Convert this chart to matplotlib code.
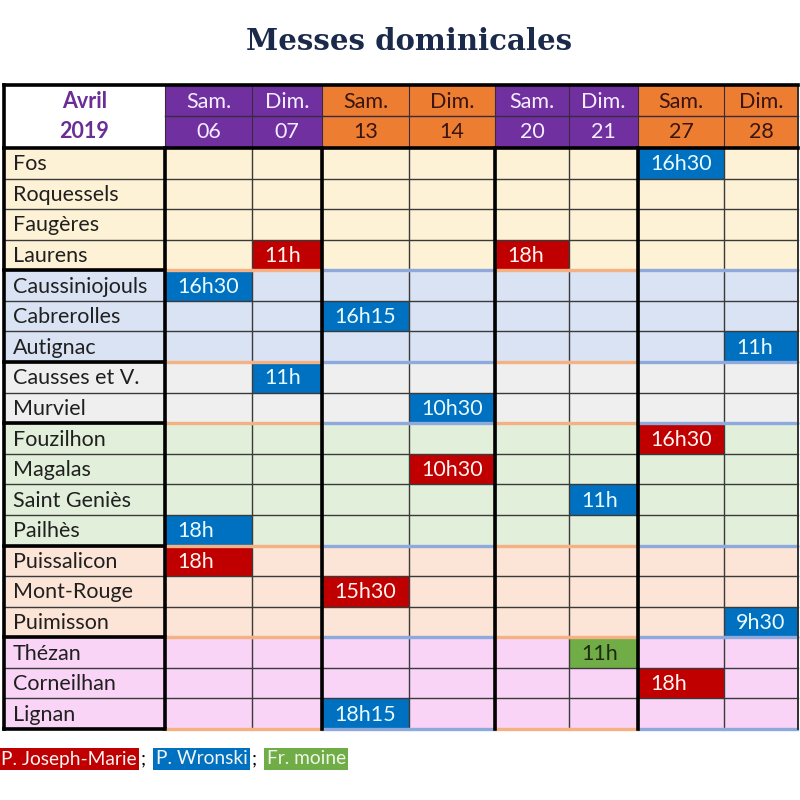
import matplotlib.pyplot as plt
from matplotlib.patches import Rectangle

# data
villages = [
    "Fos", "Roquessels", "Faugères", "Laurens",
    "Caussiniojouls", "Cabrerolles", "Autignac",
    "Causses et V.", "Murviel",
    "Fouzilhon", "Magalas", "Saint Geniès", "Pailhès",
    "Puissalicon", "Mont-Rouge", "Puimisson",
    "Thézan", "Corneilhan", "Lignan",
]
group_sizes = [4, 3, 2, 4, 3, 3]
days = ["Sam.", "Dim.", "Sam.", "Dim.", "Sam.", "Dim.", "Sam.", "Dim."]
dates = ["06", "07", "13", "14", "20", "21", "27", "28"]
priests = ["P. Joseph-Marie", "P. Wronski", "Fr. moine"]

# (village, date, time, priest index)
masses = [
    ("Fos", "27", "16h30", 1),
    ("Laurens", "07", "11h", 0),
    ("Laurens", "20", "18h", 0),
    ("Caussiniojouls", "06", "16h30", 1),
    ("Cabrerolles", "13", "16h15", 1),
    ("Autignac", "28", "11h", 1),
    ("Causses et V.", "07", "11h", 1),
    ("Murviel", "14", "10h30", 1),
    ("Fouzilhon", "27", "16h30", 0),
    ("Magalas", "14", "10h30", 0),
    ("Saint Geniès", "21", "11h", 1),
    ("Pailhès", "06", "18h", 1),
    ("Puissalicon", "06", "18h", 0),
    ("Mont-Rouge", "13", "15h30", 0),
    ("Puimisson", "28", "9h30", 1),
    ("Thézan", "21", "11h", 2),
    ("Corneilhan", "27", "18h", 0),
    ("Lignan", "13", "18h15", 1),
]

# styling
group_colors = ["#FDF1D6", "#DAE3F3", "#EFEFEF", "#E2EFDA", "#FCE4D6", "#F9D4F6"]
priest_colors = ["#C00000", "#0070C0", "#70AD47"]
priest_text = ["#FFF4F0", "#E8FBFF", "#1E2A10"]
purple = "#7030A0"
orange = "#ED7D31"
header_colors = [purple, purple, orange, orange, purple, purple, orange, orange]
sep_colors = ["#F4B183" if c == purple else "#8EA9DB" for c in header_colors]
font = "Lato"
fs = 15.5

col_edges = [4, 165, 252, 322, 409, 495, 569, 638, 724, 798]
head_top, head_mid, head_bot = 85, 116, 148
table_bot = 729
row_h = (table_bot - head_bot) / len(villages)

fig = plt.figure(figsize=(8, 8), dpi=100)
ax = fig.add_axes([0, 0, 1, 1])
ax.set_xlim(0, 800)
ax.set_ylim(800, 0)
ax.axis("off")

ax.text(409, 42, "Messes dominicales", ha="center", va="center",
        fontsize=21, fontweight="bold", family="DejaVu Serif", color="#1B2A4A")

# header
ax.text((col_edges[0] + col_edges[1]) / 2, (head_top + head_mid) / 2 + 1, "Avril",
        ha="center", va="center", fontsize=fs, fontweight="bold", family=font, color="#6A2E96")
ax.text((col_edges[0] + col_edges[1]) / 2, (head_mid + head_bot) / 2, "2019",
        ha="center", va="center", fontsize=fs, fontweight="bold", family=font, color="#6A2E96")
for j in range(len(dates)):
    x0, x1 = col_edges[j + 1], col_edges[j + 2]
    ax.add_patch(Rectangle((x0, head_top), x1 - x0, head_bot - head_top,
                           facecolor=header_colors[j], edgecolor="none"))
    tcol = "#F6EEFF" if header_colors[j] == purple else "#3A1410"
    ax.text((x0 + x1) / 2, (head_top + head_mid) / 2 + 1, days[j], ha="center", va="center",
            fontsize=fs, family=font, color=tcol)
    ax.text((x0 + x1) / 2, (head_mid + head_bot) / 2, dates[j], ha="center", va="center",
            fontsize=fs, family=font, color=tcol)
    ax.plot([x0, x1], [head_mid, head_mid], color="#3A2A40", lw=1.0)
    ax.plot([x0, x0], [head_top, head_bot], color="#3A2A40", lw=0.8)

# body fills
row_group = []
for g, n in enumerate(group_sizes):
    row_group += [g] * n
for i, name in enumerate(villages):
    y0 = head_bot + i * row_h
    ax.add_patch(Rectangle((col_edges[0], y0), col_edges[-1] - col_edges[0], row_h,
                           facecolor=group_colors[row_group[i]], edgecolor="none"))
    ax.text(col_edges[0] + 9, y0 + row_h / 2 + 1, name, ha="left", va="center",
            fontsize=fs, family=font, color="#202020")

# masses
for village, date, time, p in masses:
    i = villages.index(village)
    j = dates.index(date)
    x0, x1 = col_edges[j + 1], col_edges[j + 2]
    y0 = head_bot + i * row_h
    ax.add_patch(Rectangle((x0, y0), x1 - x0, row_h, facecolor=priest_colors[p], edgecolor="none"))
    ax.text(x0 + 12, y0 + row_h / 2 + 1, time, ha="left", va="center",
            fontsize=fs, family=font, color=priest_text[p])

# grid lines
for i in range(1, len(villages)):
    y = head_bot + i * row_h
    ax.plot([col_edges[0], col_edges[-1]], [y, y], color="#3A3A3A", lw=1.0)
for x in col_edges[2:-1]:
    ax.plot([x, x], [head_bot, table_bot], color="#3A3A3A", lw=1.0)

# group separators
bounds = [0]
for n in group_sizes:
    bounds.append(bounds[-1] + n)
for b in bounds[1:]:
    y = head_bot + b * row_h
    ax.plot([col_edges[0], col_edges[1]], [y, y], color="black", lw=2.6)
    for j in range(len(dates)):
        ax.plot([col_edges[j + 1] + 1, col_edges[j + 2] - 1], [y, y], color=sep_colors[j], lw=2.4)

# thick verticals
for x in [col_edges[0], col_edges[1], col_edges[3], col_edges[5], col_edges[7]]:
    ax.plot([x, x], [head_bot, table_bot], color="black", lw=2.6)
ax.plot([col_edges[0], col_edges[0]], [head_top, head_bot], color="black", lw=2.6)
ax.plot([col_edges[-1], col_edges[-1]], [head_top, table_bot], color="#303030", lw=1.4)
ax.plot([col_edges[0], col_edges[-1]], [head_top, head_top], color="black", lw=2.6)
ax.plot([col_edges[0], col_edges[-1]], [head_bot, head_bot], color="black", lw=2.6)

# legend: labels laid out one after another
renderer = fig.canvas.get_renderer()
x = 1
for k, name in enumerate(priests):
    t = ax.text(x, 759, name, ha="left", va="center", fontsize=13.8, family=font,
                color="#F4F4F4" if k < 2 else "#EEF5E8",
                bbox=dict(boxstyle="square,pad=0.12", facecolor=priest_colors[k], edgecolor="none"))
    bb = t.get_window_extent(renderer)
    x = ax.transData.inverted().transform((bb.x1, bb.y0))[0]
    if k < len(priests) - 1:
        s = ax.text(x + 4, 759, ";", ha="left", va="center", fontsize=13.8, family=font, color="black")
        bb = s.get_window_extent(renderer)
        x = ax.transData.inverted().transform((bb.x1, bb.y0))[0] + 10

fig.savefig("out.png", dpi=100)
